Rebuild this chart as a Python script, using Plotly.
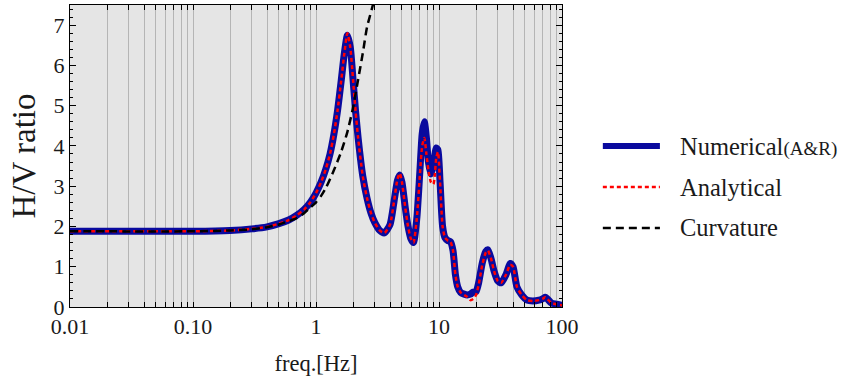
import plotly.graph_objects as go

# ---- data ----
freq_num = [0.01, 0.05, 0.1, 0.2, 0.3, 0.4, 0.5, 0.6, 0.7, 0.8, 0.9, 1.0, 1.1, 1.2, 1.3, 1.4, 1.5, 1.6,
            1.7, 1.8, 1.9, 2.0, 2.1, 2.2, 2.4, 2.6, 2.8, 3.0, 3.3, 3.6, 4.0, 4.3, 4.6, 4.8, 5.0, 5.3,
            5.6, 5.9, 6.2, 6.6, 7.0, 7.3, 7.6, 7.9, 8.2, 8.6, 9.0, 9.5, 9.8, 10.2, 10.7, 11.2, 11.8,
            12.4, 13.0, 13.6, 14.2, 15.0, 16.0, 17.0, 18.0, 19.0, 20.0, 21.0, 22.5, 24.0, 25.0, 26.5,
            28.0, 30.0, 32.0, 35.0, 38.0, 40.0, 43.0, 47.0, 52.0, 58.0, 65.0, 70.0, 73.0, 76.0, 82.0,
            90.0, 100.0]
hv_numerical = [1.88, 1.88, 1.88, 1.9, 1.94, 1.99, 2.07, 2.16, 2.28, 2.42, 2.6, 2.83, 3.1, 3.42, 3.8, 4.3,
                4.9, 5.6, 6.3, 6.75, 6.45, 5.65, 4.85, 4.2, 3.25, 2.7, 2.33, 2.1, 1.9, 1.84, 2.05, 2.6,
                3.15, 3.28, 3.1, 2.5, 2.0, 1.7, 1.6, 2.2, 3.4, 4.3, 4.6, 4.2, 3.6, 3.3, 3.5, 3.95, 3.9,
                3.1, 2.0, 1.72, 1.65, 1.62, 1.4, 0.8, 0.5, 0.36, 0.32, 0.3, 0.32, 0.37, 0.38, 0.6, 1.1,
                1.38, 1.42, 1.2, 0.9, 0.65, 0.6, 0.8, 1.08, 1.0, 0.5, 0.3, 0.17, 0.15, 0.17, 0.21, 0.24,
                0.2, 0.1, 0.07, 0.04]
hv_analytical = [1.88, 1.88, 1.88, 1.9, 1.94, 1.99, 2.07, 2.16, 2.28, 2.42, 2.6, 2.83, 3.1, 3.42, 3.8, 4.3,
                 4.9, 5.6, 6.3, 6.8, 6.45, 5.65, 4.85, 4.2, 3.25, 2.7, 2.33, 2.1, 1.9, 1.84, 2.05, 2.6,
                 3.18, 3.32, 3.1, 2.5, 2.0, 1.7, 1.6, 2.2, 3.3, 4.0, 4.2, 3.8, 3.4, 3.1, 3.05, 3.7, 3.85,
                 3.1, 2.0, 1.72, 1.65, 1.62, 1.4, 0.8, 0.5, 0.36, 0.3, 0.25, 0.17, 0.2, 0.3, 0.55, 1.05,
                 1.35, 1.4, 1.2, 0.9, 0.65, 0.6, 0.8, 1.05, 1.0, 0.5, 0.3, 0.17, 0.15, 0.17, 0.21, 0.24,
                 0.2, 0.1, 0.07, 0.04]
freq_curv = [0.01, 0.1, 0.2, 0.3, 0.4, 0.5, 0.6, 0.7, 0.8, 0.9, 1.0, 1.1, 1.2, 1.4, 1.6, 1.8, 2.0,
             2.2, 2.4, 2.6, 2.9, 3.1]
hv_curvature = [1.88, 1.88, 1.9, 1.93, 1.98, 2.05, 2.13, 2.21, 2.33, 2.47, 2.6, 2.76, 2.95, 3.4, 3.85,
                4.35, 4.95, 5.65, 6.3, 6.95, 7.5, 7.9]

series_names = ["Numerical<span style='font-size:19px'>(A&amp;R)</span>", "Analytical", "Curvature"]
major_ticks = [0.01, 0.1, 1, 10, 100]
major_labels = ["0.01", "0.10", "1", "10", "100"]
y_ticks = [0, 1, 2, 3, 4, 5, 6, 7]

# all log-grid positions
grid_vals = []
for d in [0.01, 0.1, 1, 10]:
    for m in range(1, 10):
        grid_vals.append(round(d * m, 6))
grid_vals.append(100)
grid_text = [major_labels[major_ticks.index(v)] if v in major_ticks else "" for v in grid_vals]

FONT = "Liberation Serif"
TXT = "#1a1a1a"
styles = [dict(color="#0a0a9e", width=7),
          dict(color="#ff0000", width=2.5, dash="4px,3px"),
          dict(color="black", width=2.5, dash="8px,5px")]

fig = go.Figure()
fig.add_trace(go.Scatter(x=freq_num, y=hv_numerical, mode="lines", name=series_names[0],
                         line=dict(shape="spline", smoothing=0.6, **styles[0])))
fig.add_trace(go.Scatter(x=freq_num, y=hv_analytical, mode="lines", name=series_names[1],
                         line=dict(shape="spline", smoothing=0.6, **styles[1])))
fig.add_trace(go.Scatter(x=freq_curv, y=hv_curvature, mode="lines", name=series_names[2],
                         line=dict(shape="spline", smoothing=0.6, **styles[2])))

# manual legend (paper coordinates)
leg_y = [0.533, 0.397, 0.262]
for name, st, yy in zip(series_names, styles, leg_y):
    fig.add_shape(type="line", xref="paper", yref="paper", x0=1.083, x1=1.199, y0=yy, y1=yy,
                  line=dict(color=st["color"], width=6 if st["width"] > 5 else 2.5,
                            dash=st.get("dash", "solid")))
    fig.add_annotation(xref="paper", yref="paper", x=1.236, y=yy, text=name, showarrow=False,
                       xanchor="left", yanchor="middle",
                       font=dict(family=FONT, size=24.5, color=TXT))

fig.update_layout(
    width=845, height=385,
    margin=dict(l=70, r=283, t=5, b=78),
    paper_bgcolor="white", plot_bgcolor="#e5e5e5",
    font=dict(family=FONT, size=22, color=TXT),
    showlegend=False,
)
fig.update_xaxes(type="log", range=[-2, 2], tickvals=grid_vals, ticktext=grid_text,
                 showgrid=True, gridcolor="#b5b5b5", gridwidth=1,
                 ticks="inside", ticklen=5, tickcolor="black",
                 showline=True, linecolor="black", linewidth=1, mirror="allticks",
                 zeroline=False,
                 title=dict(text="freq.[Hz]", font=dict(size=22.5), standoff=16),
                 tickfont=dict(size=22))
fig.update_yaxes(range=[0, 7.5], tickvals=y_ticks, showgrid=False,
                 ticks="inside", ticklen=6, tickcolor="black",
                 minor=dict(dtick=0.2, ticks="inside", ticklen=3, tickcolor="black", showgrid=False),
                 showline=True, linecolor="black", linewidth=1, mirror="allticks",
                 zeroline=False,
                 title=dict(text="H/V ratio", font=dict(size=33), standoff=8),
                 tickfont=dict(size=22))

fig.write_html("out.html", config={"displayModeBar": False},
               post_script="document.body.style.margin='0';")
